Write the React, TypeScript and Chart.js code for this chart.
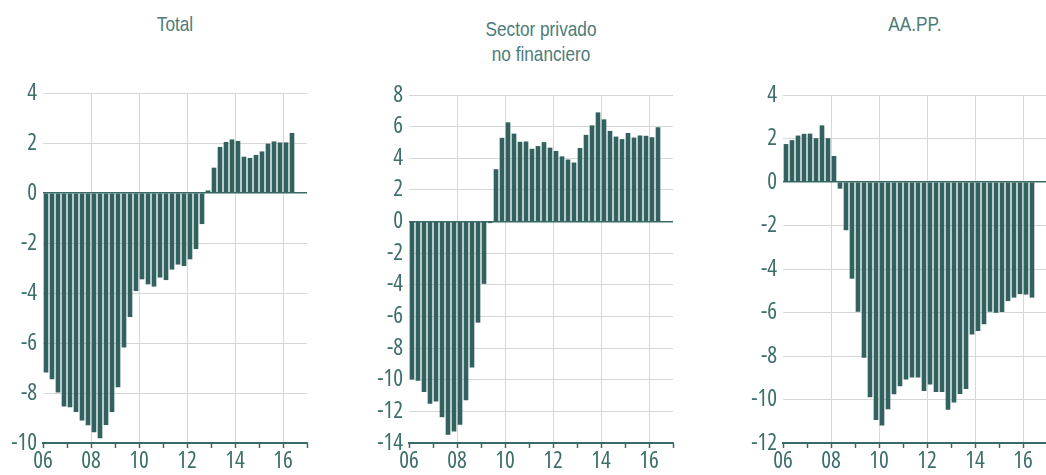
import React, { useEffect, useRef } from 'react';
import { Chart, registerables } from 'chart.js';

Chart.register(...registerables);

// Quarterly categories 2006 T1 .. 2016 T2
const quarterLabels: string[] = [];
for (let y = 2006; y <= 2016; y++) {
  for (let q = 1; q <= 4; q++) {
    if (y === 2016 && q > 2) continue;
    quarterLabels.push(`${y}T${q}`);
  }
}

const totalValues = [
  -7.17, -7.44, -7.97, -8.53, -8.56, -8.75, -9.09, -9.28, -9.56, -9.8,
  -9.27, -8.75, -7.76, -6.17, -4.95, -3.91, -3.44, -3.64, -3.73, -3.37,
  -3.47, -3.05, -2.85, -2.91, -2.64, -2.23, -1.23, 0.09, 1.0, 1.83,
  2.03, 2.13, 2.07, 1.44, 1.39, 1.51, 1.65, 1.96, 2.05, 2.01,
  2.01, 2.39,
];

const privateValues = [
  -9.96, -10.04, -10.75, -11.5, -11.35, -12.35, -13.46, -13.25, -12.83, -11.27,
  -9.2, -6.37, -3.92, -0.08, 3.29, 5.27, 6.25, 5.54, 5.02, 5.04,
  4.58, 4.75, 5.0, 4.65, 4.44, 4.1, 3.9, 3.71, 4.63, 5.46,
  6.06, 6.88, 6.44, 5.71, 5.35, 5.19, 5.58, 5.29, 5.42, 5.4,
  5.31, 5.94,
];

const publicValues = [
  1.73, 1.91, 2.12, 2.2, 2.21, 2.0, 2.59, 2.0, 1.18, -0.29,
  -2.2, -4.43, -5.95, -8.06, -9.88, -10.93, -11.18, -10.43, -9.74, -9.38,
  -9.07, -8.97, -8.97, -9.59, -9.3, -9.64, -9.64, -10.46, -10.12, -9.73,
  -9.5, -7.0, -6.83, -6.53, -5.95, -6.0, -5.96, -5.46, -5.3, -5.14,
  -5.16, -5.3,
];

const xAxisRange = [2006, 2017];
const totalYRange = [-10, 4];
const privateYRange = [-14, 8];
const publicYRange = [-12, 4];

const titleTotal = ['Total'];
const titlePrivate = ['Sector privado', 'no financiero'];
const titlePublic = ['AA.PP.'];

const BAR = '#31625f';
const TEXT = '#3d6f6c';
const TITLE = '#4e7b79';
const GRID = '#d7d7d7';
const AXIS = '#3a6a67';
const TICK_FONT = "'Open Sans', 'Liberation Sans', sans-serif";
const TITLE_FONT = "'Liberation Sans', Arial, sans-serif";

function quarterToX(label: string): number {
  const [y, q] = label.split('T').map(Number);
  return y + (q - 0.5) / 4;
}

type PanelProps = {
  title: string[];
  values: number[];
  yRange: number[];
  left: number;
  width: number;
  axisWidth: number;
  padTop: number;
  padBottom: number;
  titleTop: number;
};

function Panel({ title, values, yRange, left, width, axisWidth, padTop, padBottom, titleTop }: PanelProps) {
  const ref = useRef<HTMLCanvasElement | null>(null);

  useEffect(() => {
    if (!ref.current) return;
    const chart = new Chart(ref.current, {
      type: 'bar',
      data: {
        datasets: [
          {
            data: quarterLabels.map((q, i) => ({ x: quarterToX(q), y: values[i] })),
            backgroundColor: BAR,
            borderWidth: 0,
            barThickness: 4,
          },
        ],
      },
      options: {
        responsive: false,
        animation: false,
        layout: { padding: { top: padTop, right: 4, bottom: padBottom, left: 0 } },
        plugins: { legend: { display: false }, tooltip: { enabled: false }, title: { display: false } },
        scales: {
          x: {
            type: 'linear',
            min: xAxisRange[0],
            max: xAxisRange[1],
            offset: false,
            ticks: {
              stepSize: 1,
              autoSkip: false,
              maxRotation: 0,
              padding: 2,
              color: TEXT,
              font: { family: TICK_FONT, size: 23, lineHeight: 1, weight: 'semi-condensed' as any },
              callback: (v: any) => {
                const n = Number(v);
                return n % 2 === 0 && n < xAxisRange[1] ? String(n).slice(2) : '';
              },
            },
            grid: {
              offset: false,
              color: (ctx: any) => {
                const n = ctx.tick ? ctx.tick.value : 0;
                return n % 2 === 0 && n !== xAxisRange[0] && n < xAxisRange[1] ? GRID : 'rgba(0,0,0,0)';
              },
              tickColor: AXIS,
              tickLength: 5,
              tickWidth: 1.5,
              lineWidth: 1,
              drawTicks: true,
            },
            border: { display: true, color: AXIS, width: 2 },
          },
          y: {
            type: 'linear',
            min: yRange[0],
            max: yRange[1],
            afterFit: (scale: any) => {
              scale.width = axisWidth;
            },
            ticks: {
              stepSize: 2,
              padding: 6,
              color: TEXT,
              font: { family: TICK_FONT, size: 23, weight: 'semi-condensed' as any },
              callback: (v: any) => String(v),
            },
            grid: {
              drawTicks: false,
              color: (ctx: any) => (ctx.tick && ctx.tick.value === 0 ? AXIS : GRID),
              lineWidth: (ctx: any) => (ctx.tick && ctx.tick.value === 0 ? 1.5 : 1),
            },
            border: { display: false },
          },
        },
      },
    });
    return () => chart.destroy();
  }, []);

  const chartCenter = left + axisWidth + (width - axisWidth - 4) / 2;

  return (
    <>
      <div
        style={{
          position: 'absolute',
          left: chartCenter - 100,
          width: 200,
          top: titleTop,
          textAlign: 'center',
          fontFamily: TITLE_FONT,
          fontSize: 21,
          lineHeight: '25px',
          color: TITLE,
          transform: 'scaleX(0.82)',
          transformOrigin: 'center',
        }}
      >
        {title.map((t) => (
          <div key={t}>{t}</div>
        ))}
      </div>
      <canvas
        ref={ref}
        width={width}
        height={475}
        style={{ position: 'absolute', left, top: 0, width, height: 475 }}
      />
    </>
  );
}

export default function App() {
  return (
    <div
      style={{
        position: 'absolute',
        left: 0,
        top: 0,
        width: 1046,
        height: 475,
        overflow: 'hidden',
        background: '#ffffff',
      }}
    >
      <Panel title={titleTotal} values={totalValues} yRange={totalYRange} left={0} width={311} axisWidth={43} padTop={93} padBottom={0} titleTop={11} />
      <Panel title={titlePrivate} values={privateValues} yRange={privateYRange} left={360} width={317} axisWidth={49} padTop={95} padBottom={0} titleTop={16} />
      <Panel title={titlePublic} values={publicValues} yRange={publicYRange} left={735} width={316} axisWidth={48} padTop={95} padBottom={0} titleTop={11} />
    </div>
  );
}
